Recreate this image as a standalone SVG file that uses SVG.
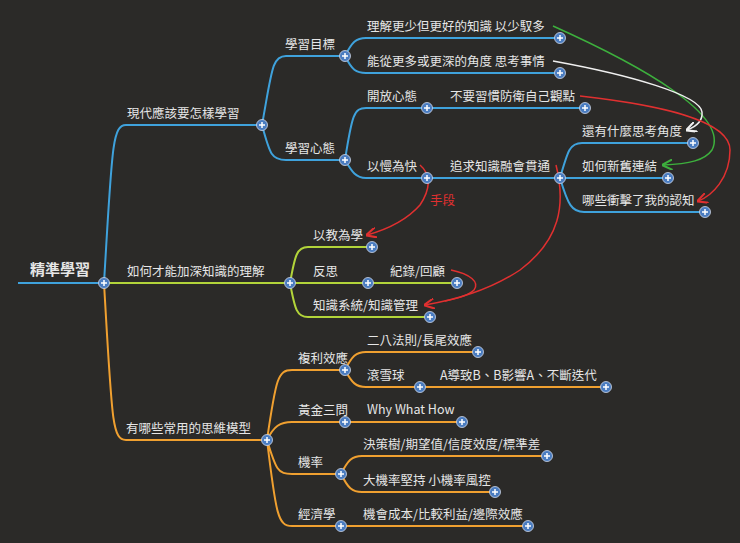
<svg xmlns="http://www.w3.org/2000/svg" xmlns:xlink="http://www.w3.org/1999/xlink" width="740" height="543" viewBox="0 0 740 543">
<style>
text{font-family:"Noto Sans CJK TC","Liberation Sans",sans-serif;font-size:12.5px;fill:#e6e6e6}
.root{font-size:15px;font-weight:bold}
.b{fill:none;stroke:#3fa2dc;stroke-width:2}
.g{fill:none;stroke:#b2d43a;stroke-width:2}
.o{fill:none;stroke:#f0a030;stroke-width:2}
.x{fill:none;stroke-width:1.5}
</style>
<defs>
<g id="dot"><circle r="5.5" fill="#4a7cc0" stroke="#cfd8e8" stroke-width="0.8"/><path d="M-3,0H3M0,-3V3" stroke="#fff" stroke-width="1.5"/></g>
<marker id="ar" viewBox="0 0 10 10" refX="9" refY="5" markerWidth="7" markerHeight="7" orient="auto"><path d="M0,0L10,5L0,10" fill="none" stroke="#e03030" stroke-width="2"/></marker>
<marker id="ag" viewBox="0 0 10 10" refX="9" refY="5" markerWidth="7" markerHeight="7" orient="auto"><path d="M0,0L10,5L0,10" fill="none" stroke="#3db03d" stroke-width="2"/></marker>
<marker id="aw" viewBox="0 0 10 10" refX="9" refY="5" markerWidth="7" markerHeight="7" orient="auto"><path d="M0,0L10,5L0,10" fill="none" stroke="#f0f0f0" stroke-width="2"/></marker>
</defs>
<rect width="740" height="543" fill="#2b2a28"/>
<g id="connectors">
<path class="b" d="M18,283H104"/>
<path class="b" d="M104,283C112,150 112,125 126,125H262"/>
<path class="b" d="M262,125C272,70 272,56 286,56H345M262,125C270,155 272,160 286,160H345"/>
<path class="b" d="M345,56C352,42 356,38 366,38H560M345,56C352,70 356,73 366,73H560"/>
<path class="b" d="M345,160C352,115 354,108 366,108H585M345,160C352,172 356,178 366,178H560"/>
<path class="b" d="M560,178C568,150 570,143 582,143H693M560,178H668M560,178C568,205 572,212 584,212H705"/>
<path class="g" d="M104,283H290"/>
<path class="g" d="M290,283C295,255 297,247 308,247H372M290,283H457M290,283C295,310 297,317 308,317H430"/>
<path class="o" d="M104,283C112,420 112,440 126,440H267"/>
<path class="o" d="M267,440C276,378 278,370 292,370H345M267,440C274,426 280,422 292,422H462M267,440C276,470 278,474 292,474H341M267,440C276,515 278,526 292,526H528"/>
<path class="o" d="M345,370C352,356 356,352 366,352H478M345,370C352,383 356,387 366,387H606"/>
<path class="o" d="M341,474C348,460 352,456 362,456H547M341,474C348,488 352,492 362,492H495"/>
<path class="x" stroke="#3db03d" marker-end="url(#ag)" d="M553,26C640,65 730,115 712,150C705,160 690,164 663,165"/>
<path class="x" stroke="#f0f0f0" marker-end="url(#aw)" d="M553,61C630,75 700,95 702,112C703,122 695,127 687,130"/>
<path class="x" stroke="#e03030" marker-end="url(#ar)" d="M580,96C660,105 730,120 730,150C730,178 712,196 698,201"/>
<path class="x" stroke="#e03030" marker-end="url(#ar)" d="M420,165C432,175 430,190 420,205C405,222 385,230 367,235"/>
<path class="x" stroke="#e03030" marker-end="url(#ar)" d="M556,165C566,205 560,240 520,270C490,290 455,300 425,305"/>
<path class="x" stroke="#e03030" d="M451,270C470,274 480,282 474,290C468,296 455,299 445,301"/>
</g>
<g id="dots">
<use xlink:href="#dot" x="104" y="283"/><use xlink:href="#dot" x="262" y="125"/><use xlink:href="#dot" x="345" y="56"/><use xlink:href="#dot" x="345" y="160"/>
<use xlink:href="#dot" x="560" y="38"/><use xlink:href="#dot" x="560" y="73"/><use xlink:href="#dot" x="427" y="108"/><use xlink:href="#dot" x="585" y="108"/>
<use xlink:href="#dot" x="427" y="178"/><use xlink:href="#dot" x="560" y="178"/><use xlink:href="#dot" x="693" y="143"/><use xlink:href="#dot" x="668" y="178"/><use xlink:href="#dot" x="705" y="212"/>
<use xlink:href="#dot" x="290" y="283"/><use xlink:href="#dot" x="372" y="247"/><use xlink:href="#dot" x="368" y="283"/><use xlink:href="#dot" x="457" y="283"/><use xlink:href="#dot" x="430" y="317"/>
<use xlink:href="#dot" x="267" y="440"/><use xlink:href="#dot" x="345" y="370"/><use xlink:href="#dot" x="478" y="352"/><use xlink:href="#dot" x="420" y="387"/><use xlink:href="#dot" x="606" y="387"/>
<use xlink:href="#dot" x="345" y="422"/><use xlink:href="#dot" x="462" y="422"/><use xlink:href="#dot" x="341" y="474"/><use xlink:href="#dot" x="547" y="456"/><use xlink:href="#dot" x="495" y="492"/>
<use xlink:href="#dot" x="341" y="526"/><use xlink:href="#dot" x="528" y="526"/>
</g>
<g id="n-root"><text class="root" x="30" y="275">精準學習</text></g>
<g id="n-b1"><text x="127" y="118">現代應該要怎樣學習</text></g>
<g id="n-b1a"><text x="285" y="49">學習目標</text></g>
<g id="n-b1a1"><text x="367" y="31">理解更少但更好的知識  以少馭多</text></g>
<g id="n-b1a2"><text x="367" y="66">能從更多或更深的角度  思考事情</text></g>
<g id="n-b1b"><text x="285" y="153">學習心態</text></g>
<g id="n-b1b1"><text x="367" y="101">開放心態</text></g>
<g id="n-b1b1a"><text x="450" y="101">不要習慣防衛自己觀點</text></g>
<g id="n-b1b2"><text x="367" y="171">以慢為快</text></g>
<g id="n-b1b2a"><text x="450" y="171">追求知識融會貫通</text></g>
<g id="n-c1"><text x="582" y="136">還有什麼思考角度</text></g>
<g id="n-c2"><text x="582" y="171">如何新舊連結</text></g>
<g id="n-c3"><text x="582" y="205">哪些衝擊了我的認知</text></g>
<g id="n-label"><text x="430" y="205" style="fill:#e03030">手段</text></g>
<g id="n-b2"><text x="127" y="276">如何才能加深知識的理解</text></g>
<g id="n-b2a"><text x="313" y="240">以教為學</text></g>
<g id="n-b2b"><text x="313" y="276">反思</text></g>
<g id="n-b2b1"><text x="390" y="276">紀錄/回顧</text></g>
<g id="n-b2c"><text x="313" y="310">知識系統/知識管理</text></g>
<g id="n-b3"><text x="126" y="433">有哪些常用的思維模型</text></g>
<g id="n-b3a"><text x="298" y="363">複利效應</text></g>
<g id="n-b3a1"><text x="367" y="345">二八法則/長尾效應</text></g>
<g id="n-b3a2"><text x="367" y="380">滾雪球</text></g>
<g id="n-b3a2a"><text x="440" y="380">A導致B、B影響A、不斷迭代</text></g>
<g id="n-b3b"><text x="298" y="415">黃金三問</text></g>
<g id="n-b3b1"><text x="367" y="414">Why  What  How</text></g>
<g id="n-b3c"><text x="298" y="467">機率</text></g>
<g id="n-b3c1"><text x="363" y="449">決策樹/期望值/信度效度/標準差</text></g>
<g id="n-b3c2"><text x="363" y="485">大機率堅持 小機率風控</text></g>
<g id="n-b3d"><text x="298" y="519">經濟學</text></g>
<g id="n-b3d1"><text x="363" y="519">機會成本/比較利益/邊際效應</text></g>
</svg>
